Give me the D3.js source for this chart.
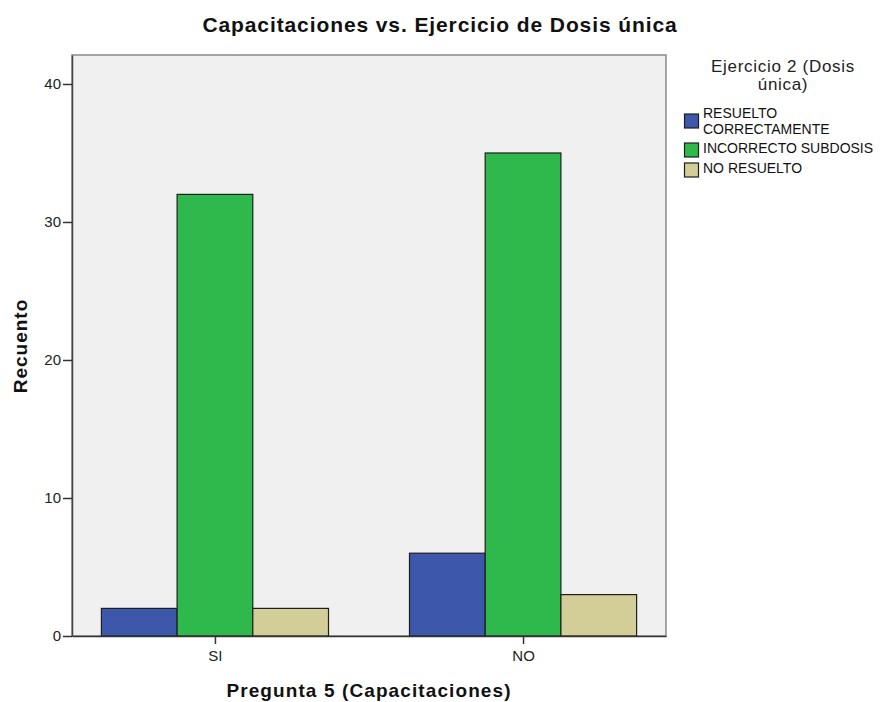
<!DOCTYPE html>
<html><head><meta charset="utf-8">
<script src="https://cdn.jsdelivr.net/npm/d3@7"></script>
<style>body{margin:0;background:#fff}svg{display:block}text{font-family:Arial,"Liberation Sans",sans-serif}</style>
</head><body>
<svg id="c" width="880" height="702"></svg>
<script>
const categories = ["SI", "NO"];
const seriesNames = ["RESUELTO CORRECTAMENTE", "INCORRECTO SUBDOSIS", "NO RESUELTO"];
const legendLabels = [["RESUELTO", "CORRECTAMENTE"], ["INCORRECTO SUBDOSIS"], ["NO RESUELTO"]];
const resuelto = [2, 6];
const incorrecto = [32, 35];
const noResuelto = [2, 3];
const yTicks = [0, 10, 20, 30, 40];
const colors = ["#3d57ab", "#2fb84b", "#d3cd98"];
const seriesValues = [resuelto, incorrecto, noResuelto];

const svg = d3.select("#c");
const L = 72, R = 666, T = 55, B = 636;
const FF = "Arial, 'Liberation Sans', sans-serif";

const x = d3.scalePoint().domain(categories).range([L, R]).padding(0.464);
const y = d3.scaleLinear().domain([0, 42.1]).range([B, T]);
const bw = 75.7;
const xs = d3.scaleBand().domain(seriesNames).range([-bw * 1.5, bw * 1.5]);

svg.append("rect").attr("x", L).attr("y", T).attr("width", R - L).attr("height", B - T)
  .attr("fill", "#f0f0f0").attr("stroke", "#8a8a8a").attr("stroke-width", 1.5);

categories.forEach((c, i) => {
  seriesNames.forEach((s, j) => {
    const v = seriesValues[j][i];
    svg.append("rect")
      .attr("x", x(c) + xs(s)).attr("y", y(v))
      .attr("width", xs.bandwidth()).attr("height", y(0) - y(v))
      .attr("fill", colors[j]).attr("stroke", "#1e1e1e").attr("stroke-width", 1.2);
  });
});

const yAxis = svg.append("g").attr("transform", `translate(${L},0)`)
  .call(d3.axisLeft(y).tickValues(yTicks).tickSize(9).tickSizeOuter(0).tickPadding(2).tickFormat(d3.format("d")));
yAxis.select(".domain").attr("stroke", "#444").attr("stroke-width", 1.5);
yAxis.selectAll(".tick line").attr("stroke", "#333").attr("stroke-width", 1.5);
yAxis.selectAll("text").attr("font-size", 15).attr("fill", "#222").attr("font-family", FF);

const xAxis = svg.append("g").attr("transform", `translate(0,${B})`)
  .call(d3.axisBottom(x).tickSize(8).tickSizeOuter(0).tickPadding(6));
xAxis.select(".domain").attr("stroke", "#333").attr("stroke-width", 1.5);
xAxis.selectAll(".tick line").attr("stroke", "#333").attr("stroke-width", 1.5);
xAxis.selectAll("text").attr("font-size", 15).attr("fill", "#222").attr("font-family", FF);

svg.append("text").attr("x", 440).attr("y", 32).attr("text-anchor", "middle")
  .attr("font-size", 21).attr("letter-spacing", "0.9").attr("font-weight", "bold").attr("fill", "#111")
  .text("Capacitaciones vs. Ejercicio de Dosis única");

svg.append("text").attr("transform", "translate(27,346) rotate(-90)").attr("text-anchor", "middle")
  .attr("font-size", 19).attr("letter-spacing", "1").attr("font-weight", "bold").attr("fill", "#111").text("Recuento");

svg.append("text").attr("x", 369).attr("y", 697).attr("text-anchor", "middle")
  .attr("font-size", 19).attr("letter-spacing", "1.1").attr("font-weight", "bold").attr("fill", "#111").text("Pregunta 5 (Capacitaciones)");

const lg = svg.append("g");
lg.append("text").attr("x", 783).attr("y", 72).attr("text-anchor", "middle")
  .attr("font-size", 17).attr("letter-spacing", "0.7").attr("fill", "#222").text("Ejercicio 2 (Dosis");
lg.append("text").attr("x", 783).attr("y", 90).attr("text-anchor", "middle")
  .attr("font-size", 17).attr("letter-spacing", "0.7").attr("fill", "#222").text("única)");

const swY = [114, 143, 163];
const txY = [[118, 134], [153], [173]];
seriesNames.forEach((s, j) => {
  lg.append("rect").attr("x", 684.5).attr("y", swY[j]).attr("width", 14).attr("height", 14)
    .attr("fill", colors[j]).attr("stroke", "#1e1e1e").attr("stroke-width", 1.2);
  legendLabels[j].forEach((t, k) => {
    lg.append("text").attr("x", 703).attr("y", txY[j][k]).attr("font-size", 14)
      .attr("fill", "#111").text(t);
  });
});
</script>
</body></html>
